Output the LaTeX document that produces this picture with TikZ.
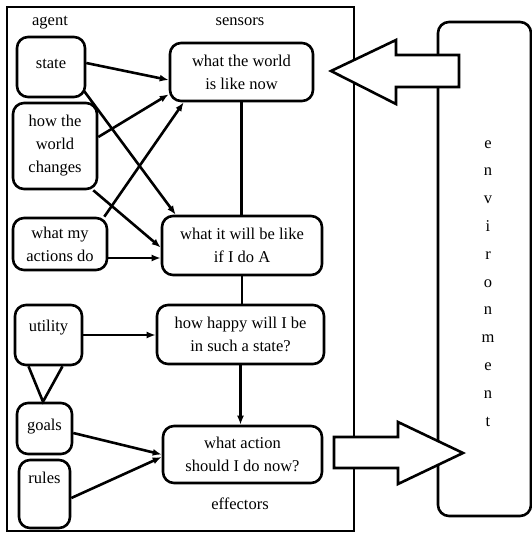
\documentclass[tikz,border=0pt]{standalone}
\usepackage{fontspec}
\setmainfont{Liberation Serif}
\usetikzlibrary{calc,arrows.meta}
\begin{document}
\begin{tikzpicture}[x=1pt,y=-1pt,
  every node/.style={font=\fontsize{16.5}{23}\selectfont},
  box/.style={draw,line width=2.6pt,rounded corners=11pt,inner sep=0pt,align=center},
  sbox/.style={draw,line width=2.6pt,rounded corners=11pt,inner sep=0pt},
  conn/.style={line width=2.6pt},
  arr/.style={line width=2.6pt,-{Latex[length=9pt,width=7pt]}},
  bigarrow/.style={draw,line width=2.6pt,fill=white,line join=miter},
  lbl/.style={anchor=base,inner sep=0pt}]
\useasboundingbox (0,0) rectangle (532,533);
% agent frame
\node[draw,line width=2.6pt,inner sep=0pt,minimum width=347pt,minimum height=524pt] (agentbox) at (180.5,269) {};
% environment
\node[draw,line width=2.6pt,rounded corners=11pt,inner sep=0pt,minimum width=93pt,minimum height=494pt] (env) at (484.5,269) {};
\node[inner sep=0pt,anchor=base,align=center,font=\fontsize{16.5}{27.8}\selectfont] (envtext) at (488,426)
  {e\\n\\v\\i\\r\\o\\n\\m\\e\\n\\t};
% labels
\node[lbl] (agentlbl) at (50,25) {agent};
\node[lbl] (sensorslbl) at (240,25) {sensors};
\node[lbl] (effectorslbl) at (240,509) {effectors};
% left column
\node[sbox,minimum width=68pt,text height=31pt,text depth=29pt] (state) at (51,67) {state};
\node[box,minimum width=84pt,minimum height=86pt] (hwc) at (55,146) {how the\\world\\changes};
\node[box,minimum width=94pt,minimum height=52pt] (wmad) at (60,244) {what my\\actions do};
\node[sbox,minimum width=67pt,text height=26pt,text depth=34pt] (utility) at (48.5,335) {utility};
\node[sbox,minimum width=55pt,text height=27pt,text depth=24pt] (goals) at (44.5,428.5) {goals};
\node[sbox,minimum width=51pt,text height=23pt,text depth=45pt] (rules) at (44.5,494) {rules};
% right column
\node[box,minimum width=143pt,minimum height=58pt] (wn) at (241.5,72) {what the world\\is like now};
\node[box,minimum width=160pt,minimum height=59pt] (wb) at (242,245.5) {what it will be like\\if I do A};
\node[box,minimum width=167pt,minimum height=59pt] (hh) at (240.5,334.5) {how happy will I be\\in such a state?};
\node[box,minimum width=159pt,minimum height=57pt] (act) at (242.5,454.5) {what action\\should I do now?};
% connectors
\draw[arr] ($(state.east)+(0,-4)$) -- ($(wn.west)+(0,8)$);
\draw[arr] ($(state.south east)+(-2,-7)$) -- ($(wb.north west)+(15,0)$);
\draw[arr] ($(hwc.east)+(0,-9)$) -- ($(wn.south west)+(0,-8)$);
\draw[arr] ($(hwc.south east)+(-5,0)$) -- ($(wb.west)+(0,2)$);
\draw[arr] ($(wmad.north east)+(-4,0)$) -- ($(wn.south west)+(15,0)$);
\draw[arr] ($(wmad.east)+(0,14)$) -- ($(wb.west)+(0,12.5)$);
\draw[conn] (wn.south) -- (wn.south |- wb.north);
\draw[conn] (wb.south) -- (wb.south |- hh.north);
\draw[arr] (utility.east) -- (utility.east -| hh.west);
\draw[arr] (hh.south) -- (hh.south |- act.north);
\draw[conn,line join=miter] ($(utility.south)+(-20,0)$) -- ($(goals.north)+(-1.5,0)$) -- ($(utility.south)+(14,0)$);
\draw[arr] ($(goals.east)+(0,4.5)$) -- (act.west);
\draw[arr] ($(rules.east)+(0,4)$) -- ($(act.west)+(0,2.5)$);
% big arrows
\draw[bigarrow] (459,55) coordinate (s1) -- (396,55) -- (396,40) -- (331,71) coordinate (stip) -- (396,104) -- (396,87) -- (459,87) -- cycle;
\draw[bigarrow] (334,437) -- (398,437) -- (398,422) -- (463,453) coordinate (etip) -- (398,484) -- (398,468) -- (334,468) -- cycle;
\end{tikzpicture}
\end{document}
